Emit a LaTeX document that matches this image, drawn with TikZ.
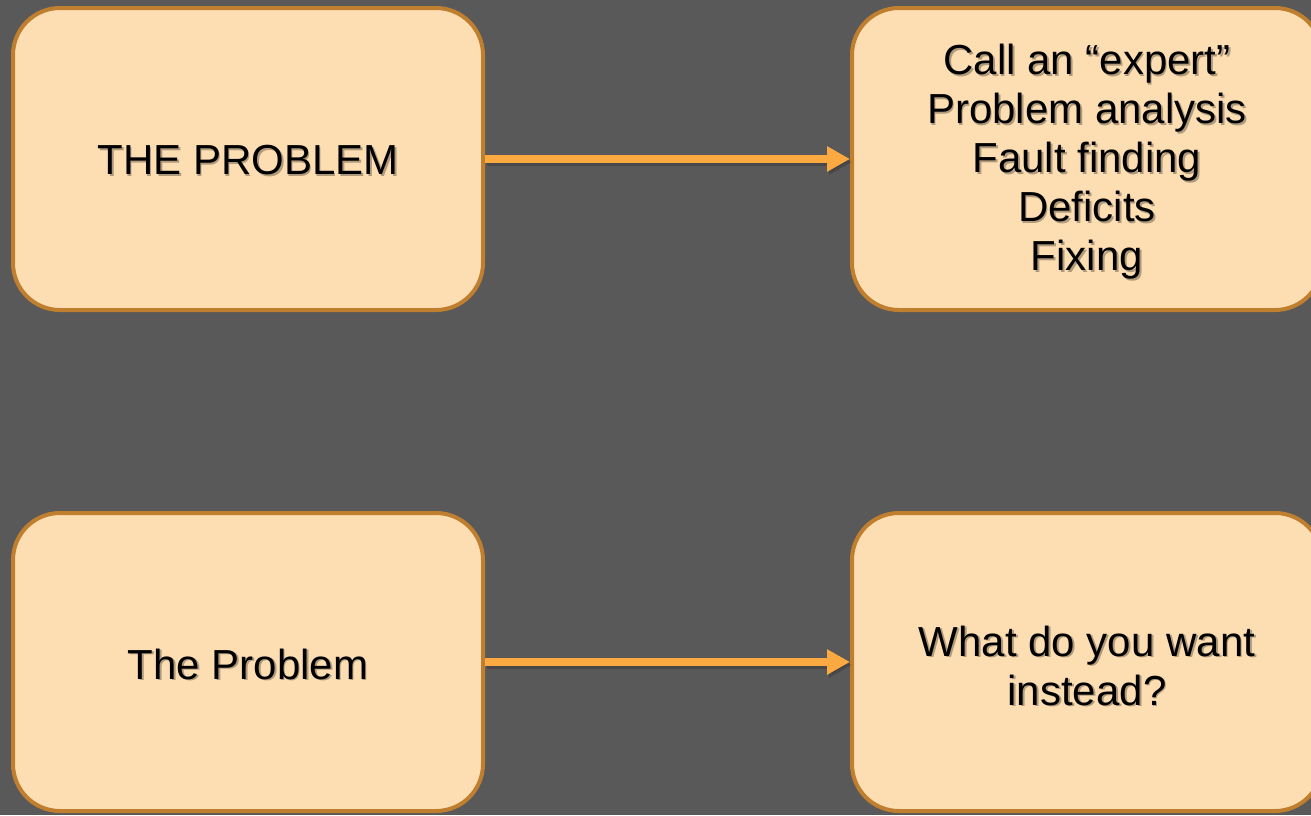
\documentclass[tikz,border=0pt]{standalone}
\usepackage{fontspec}
\setmainfont{Liberation Sans}
\usetikzlibrary{arrows.meta}
\definecolor{bg}{HTML}{595959}
\definecolor{boxfill}{HTML}{FDDDB2}
\definecolor{boxline}{HTML}{BF7F2E}
\definecolor{arrowc}{HTML}{FBA940}
\tikzset{
  box/.style={draw=boxline, fill=boxfill, line width=4pt, rounded corners=47pt,
    minimum width=470pt, minimum height=302pt, inner sep=0pt},
  label text/.style={align=center, inner sep=0pt, text=black,
    font=\fontsize{42}{49}\selectfont},
  shadowtext/.style={label text, opacity=0.3},
  flow/.style={draw=arrowc, line width=8pt, -{Triangle[length=23pt,width=24pt]}},
  flowshadow/.style={draw=black, opacity=0.18, line width=8pt, -{Triangle[length=23pt,width=24pt]}},
}
\begin{document}
\begin{tikzpicture}[x=1pt,y=-1pt]
\fill[bg] (0,0) rectangle (1311,815);
\useasboundingbox (0,0) rectangle (1311,815);

% boxes
\node[box] (p1) at (248,159) {};
\node[box] (e1) at (1087,159) {};
\node[box, minimum height=298pt] (p2) at (248,662) {};
\node[box, minimum height=298pt] (e2) at (1087,662) {};

% texts
\node[label text] (p1t) at ([yshift=-1pt]p1.center) {THE PROBLEM};
\node[label text] (e1t) at ([yshift=-3pt]e1.center) {Call an “expert”\\Problem analysis\\Fault finding\\Deficits\\Fixing};
\node[label text] (p2t) at ([yshift=-2pt]p2.center) {The Problem};
\node[label text] (e2t) at ([yshift=-3.5pt]e2.center) {What do you want\\instead?};

% text shadows
\node[shadowtext] (p1s) at ([shift={(1.8,1.8)}]p1t.center) {THE PROBLEM};
\node[shadowtext] (e1s) at ([shift={(1.8,1.8)}]e1t.center) {Call an “expert”\\Problem analysis\\Fault finding\\Deficits\\Fixing};
\node[shadowtext] (p2s) at ([shift={(1.8,1.8)}]p2t.center) {The Problem};
\node[shadowtext] (e2s) at ([shift={(1.8,1.8)}]e2t.center) {What do you want\\instead?};

% connectors
\coordinate (a1s) at ([shift={(2,3)}]p1.east);
\coordinate (b1s) at ([shift={(2,3)}]e1.west);
\coordinate (a2s) at ([shift={(2,3)}]p2.east);
\coordinate (b2s) at ([shift={(2,3)}]e2.west);
\draw[flowshadow] (a1s) -- (b1s);
\draw[flowshadow] (a2s) -- (b2s);
\draw[flow] (p1.east) -- (e1.west);
\draw[flow] (p2.east) -- (e2.west);
\end{tikzpicture}
\end{document}
